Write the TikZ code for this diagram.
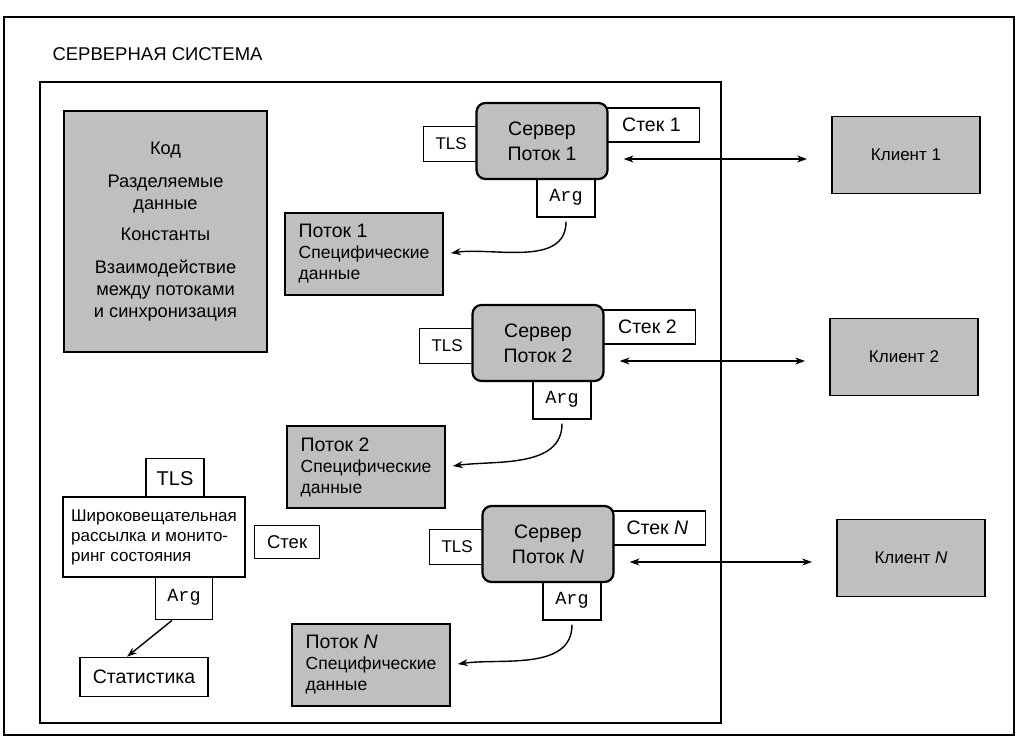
\documentclass[tikz,border=0pt]{standalone}
\usepackage{fontspec}
\setmainfont{Liberation Sans}
\setmonofont{Liberation Mono}
\usetikzlibrary{arrows.meta,positioning,backgrounds}

\tikzset{
  greybox/.style={draw, line width=1.8pt, fill=black!25, inner sep=0pt},
  srvbox/.style={greybox, rounded corners=9pt, line width=2.2pt,
    minimum width=131pt, minimum height=76pt, align=center,
    font=\fontsize{19.5pt}{25pt}\selectfont},
  tagbox/.style={draw, line width=1.6pt, fill=white, inner sep=0pt, minimum height=35pt},
  argbox/.style={tagbox, font=\fontsize{18.5pt}{21pt}\ttfamily},
  databox/.style={greybox, align=left, minimum width=158pt, minimum height=82pt,
    font=\fontsize{17.5pt}{21pt}\selectfont},
  plainbox/.style={draw, line width=1.6pt, fill=white, inner sep=0pt},
  link/.style={line width=1.4pt}
}

\begin{document}
\begin{tikzpicture}[x=1pt, y=-1pt, font=\fontsize{17pt}{21pt}\selectfont,
    >={Stealth[length=10pt,width=7pt]}]
  \useasboundingbox (0,0) rectangle (1019,747);
  %% frames
  \draw[line width=1.2pt] (4,17) rectangle (1014,735);
  \draw[line width=2pt] (40,82) rectangle (721,723);
  \node[anchor=west, font=\fontsize{18.5pt}{21pt}\selectfont] (title) at (49,54) {СЕРВЕРНАЯ СИСТЕМА};
  %% shared resources
  \node[greybox, minimum width=203pt, minimum height=241pt, align=center,
    font=\fontsize{18.2pt}{22pt}\selectfont] (shared) at (165.5,231.5)
    {Код\\[11pt]Разделяемые\\данные\\[9pt]Константы\\[11pt]Взаимодействие\\между потоками\\и синхронизация};
  %% server threads, their data and clients
  \foreach \n/\sx/\sy/\dx/\dy/\cx/\cy/\lab in {1/542/141/364/254/906/155/1,
      2/538/343/366/467/904/357/2, N/548/544/371/665/911/558/{\textit{N}}} {
    \node[srvbox] (srv\n) at (\sx,\sy) {Сервер\\Поток \lab};
    \begin{pgfonlayer}{background}
      \node[tagbox, anchor=east, minimum width=55pt] (tls\n) at ([xshift=4pt,yshift=-3pt]srv\n.west) {TLS};
      \node[tagbox, anchor=west, minimum width=96pt, minimum height=34pt,
        font=\fontsize{19.5pt}{21pt}\selectfont] (stk\n)
        at ([xshift=-6pt,yshift=16pt]srv\n.east) {Стек \lab};
      \node[argbox, anchor=north, minimum width=58pt, minimum height=40pt] (arg\n)
        at ([xshift=24pt,yshift=4pt]srv\n.south) {Arg};
    \end{pgfonlayer}
    \node[databox] (dat\n) at (\dx,\dy) {{\fontsize{19.5pt}{21pt}\selectfont Поток \lab}\\Специфические\\данные};
    \node[greybox, minimum width=148pt, minimum height=77pt] (cli\n) at (\cx,\cy) {Клиент \lab};
    \coordinate (bi\n) at ([shift={(15pt,-18pt)}]srv\n.east);
    \draw[link, <->, shorten >=24pt] (bi\n) -- (bi\n -| cli\n.west);
    \draw[link, ->, shorten <=4pt, shorten >=7pt] (arg\n.south) to[out=-90, in=8] (dat\n.east);
  }
  %% broadcast thread
  \node[plainbox, align=left, minimum width=182pt, minimum height=80pt,
    font=\fontsize{17pt}{20pt}\selectfont] (bcast) at (154,537)
    {Широковещательная\\рассылка и монито-\\ринг состояния};
  \begin{pgfonlayer}{background}
    \node[tagbox, anchor=south, minimum width=58pt, minimum height=40pt,
      font=\fontsize{20pt}{21pt}\selectfont] (tlsB)
      at ([xshift=21pt,yshift=-3pt]bcast.north) {TLS};
    \node[argbox, anchor=north, minimum width=57pt, minimum height=44pt] (argB)
      at ([xshift=30pt,yshift=3pt]bcast.south) {Arg};
  \end{pgfonlayer}
  \node[plainbox, anchor=west, minimum width=65pt, minimum height=33pt,
    font=\fontsize{18.5pt}{21pt}\selectfont] (stkB)
    at ([xshift=8pt,yshift=-5pt]bcast.east) {Стек};
  \node[plainbox, minimum width=128pt, minimum height=39pt,
    font=\fontsize{19.5pt}{21pt}\selectfont] (stat) at (144,677) {Статистика};
  \draw[link, ->] ([xshift=-12pt]argB.south) -- ([xshift=-17pt]stat.north);
\end{tikzpicture}
\end{document}
